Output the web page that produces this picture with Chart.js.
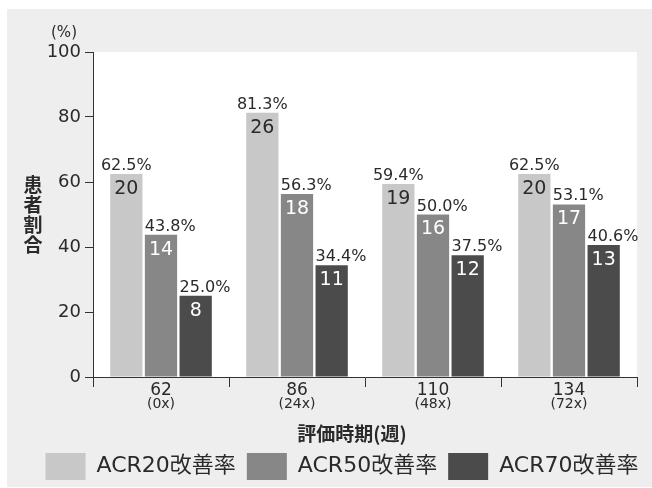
<!DOCTYPE html>
<html lang="ja">
<head>
<meta charset="utf-8">
<script src="https://cdn.jsdelivr.net/npm/chart.js@4.4.1/dist/chart.umd.min.js"></script>
<style>
  html, body { margin: 0; padding: 0; background: #ffffff; }
  #wrap { width: 652px; height: 488px; }
</style>
</head>
<body>
<div id="wrap"><canvas id="acrChart" width="652" height="488"></canvas></div>
<script>
// 評価時期（週）と投与回数
const weeks = ['62', '86', '110', '134'];
const doses = ['(0x)', '(24x)', '(48x)', '(72x)'];

// 改善率（%）
const acr20Rate = [62.5, 81.3, 59.4, 62.5];
const acr50Rate = [43.8, 56.3, 50.0, 53.1];
const acr70Rate = [25.0, 34.4, 37.5, 40.6];

// 改善例数
const acr20Count = [20, 26, 19, 20];
const acr50Count = [14, 18, 16, 17];
const acr70Count = [8, 11, 12, 13];

const yTicks = [0, 20, 40, 60, 80, 100];

const FONT = "'DejaVu Sans', 'Noto Sans CJK JP', sans-serif";
const JP_FONT = "'Noto Sans CJK JP', sans-serif";
const INK = '#2a2a2a';

Chart.defaults.font.family = FONT;
Chart.defaults.color = INK;

const counts = [acr20Count, acr50Count, acr70Count];

// 背景パネルと白いプロット領域
const panelPlugin = {
    id: 'panel',
    beforeDraw(chart) {
        const { ctx, chartArea: a } = chart;
        ctx.save();
        ctx.fillStyle = '#ffffff';
        ctx.fillRect(0, 0, chart.width, chart.height);
        ctx.fillStyle = '#eeeeee';
        ctx.fillRect(7, 9, chart.width - 7, chart.height - 10);
        ctx.fillStyle = '#ffffff';
        ctx.fillRect(a.left, a.top, a.right - a.left, a.bottom - a.top);
        ctx.restore();
    }
};

// 棒の上の割合と棒の中の例数
const barLabelPlugin = {
    id: 'barLabels',
    afterDatasetsDraw(chart) {
        const { ctx } = chart;
        ctx.save();
        chart.data.datasets.forEach((ds, di) => {
            const meta = chart.getDatasetMeta(di);
            meta.data.forEach((bar, i) => {
                const v = ds.data[i];
                const left = bar.x - bar.width / 2;

                ctx.font = '16px ' + FONT;
                ctx.fillStyle = INK;
                ctx.textBaseline = 'alphabetic';
                if (di === 0) {
                    ctx.textAlign = 'center';
                    ctx.fillText(v.toFixed(1) + '%', bar.x, bar.y - 4);
                } else {
                    ctx.textAlign = 'left';
                    ctx.fillText(v.toFixed(1) + '%', left, bar.y - 4);
                }

                ctx.font = '19px ' + FONT;
                ctx.textAlign = 'center';
                ctx.textBaseline = 'middle';
                ctx.fillStyle = di === 0 ? INK : '#ffffff';
                ctx.fillText(String(counts[di][i]), bar.x, bar.y + 15);
            });
        });
        ctx.restore();
    }
};

// 軸タイトル・単位・投与回数
const axisTextPlugin = {
    id: 'axisText',
    afterDraw(chart) {
        const { ctx, chartArea: a, scales } = chart;
        const x = scales.x;
        ctx.save();
        ctx.fillStyle = INK;
        ctx.textAlign = 'center';
        ctx.textBaseline = 'middle';

        ctx.font = '14px ' + FONT;
        doses.forEach((d, i) => {
            ctx.fillText(d, x.getPixelForValue(i), a.bottom + 27);
        });

        ctx.font = 'bold 19px ' + JP_FONT;
        ctx.fillText('評価時期(週)', (a.left + a.right) / 2 - 13, a.bottom + 57);

        const title = '患者割合';
        const midY = (a.top + a.bottom) / 2;
        for (let k = 0; k < title.length; k++) {
            ctx.fillText(title[k], 33, midY + (k - (title.length - 1) / 2) * 20);
        }

        ctx.font = '15px ' + FONT;
        ctx.fillText('(%)', 64, 33);
        ctx.restore();
    }
};

new Chart(document.getElementById('acrChart'), {
    type: 'bar',
    data: {
        labels: weeks,
        datasets: [
            { label: 'ACR20改善率', data: acr20Rate, backgroundColor: '#c8c8c8' },
            { label: 'ACR50改善率', data: acr50Rate, backgroundColor: '#878787' },
            { label: 'ACR70改善率', data: acr70Rate, backgroundColor: '#4b4b4b' }
        ]
    },
    options: {
        responsive: false,
        animation: false,
        events: [],
        categoryPercentage: 0.765,
        barPercentage: 0.93,
        layout: {
            padding: { left: 32, right: 0, top: 52, bottom: -2 }
        },
        plugins: {
            tooltip: { enabled: false },
            legend: {
                position: 'bottom',
                labels: {
                    boxWidth: 40,
                    boxHeight: 27,
                    padding: 11,
                    color: INK,
                    font: { size: 22 }
                }
            }
        },
        scales: {
            x: {
                afterFit(scale) { scale.height = 65; },
                grid: {
                    offset: true,
                    drawOnChartArea: false,
                    drawTicks: true,
                    tickLength: 10,
                    color: '#333333'
                },
                border: { display: true, color: '#333333', width: 1 },
                ticks: {
                    padding: -7,
                    color: INK,
                    font: { size: 17 }
                }
            },
            y: {
                min: 0,
                max: 100,
                afterFit(scale) { scale.width = 61; },
                afterBuildTicks(scale) {
                    scale.ticks = yTicks.map(v => ({ value: v }));
                },
                grid: {
                    drawOnChartArea: false,
                    drawTicks: true,
                    tickLength: 8,
                    color: '#333333'
                },
                border: { display: true, color: '#333333', width: 1 },
                ticks: {
                    padding: 4,
                    color: INK,
                    font: { size: 18 }
                }
            },
            // 右側の余白
            gap: {
                type: 'linear',
                position: 'right',
                afterFit(scale) { scale.width = 15; },
                grid: { display: false, drawTicks: false },
                border: { display: false },
                ticks: { display: false }
            }
        }
    },
    plugins: [panelPlugin, barLabelPlugin, axisTextPlugin]
});
</script>
</body>
</html>
